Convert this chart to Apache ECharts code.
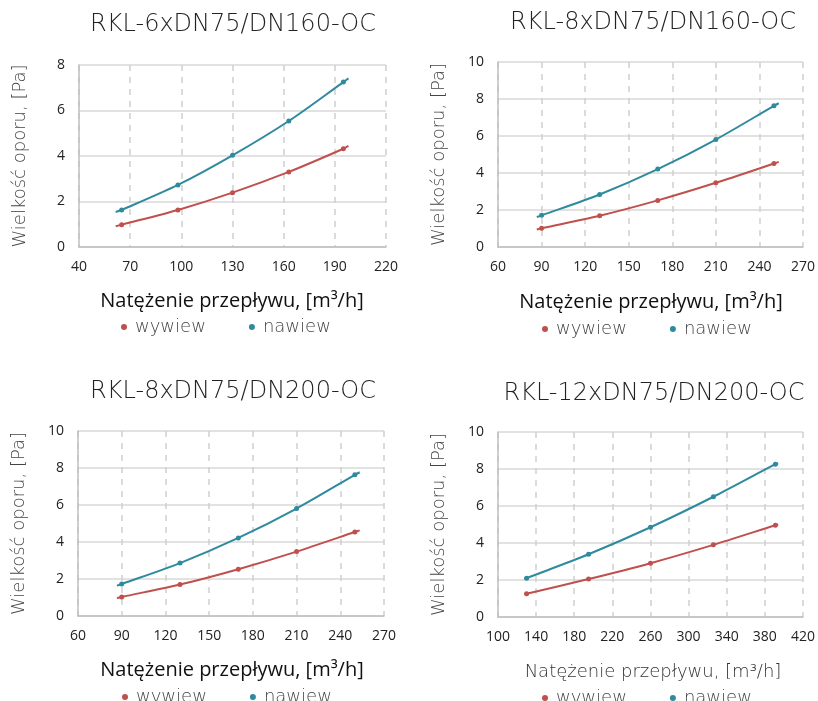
<!DOCTYPE html>
<html>
<head>
<meta charset="utf-8">
<script src="https://cdn.jsdelivr.net/npm/echarts@6/dist/echarts.min.js"></script>
<style>
  html, body { margin: 0; padding: 0; background: #fff; }
  #main { width: 818px; height: 701px; }
</style>
</head>
<body>
<div id="main"></div>
<script>
// tytuły wykresów
const titles = ['RKL-6xDN75/DN160-OC', 'RKL-8xDN75/DN160-OC', 'RKL-8xDN75/DN200-OC', 'RKL-12xDN75/DN200-OC'];

// osie X (min, max, krok) i Y (max, krok)
const xMin = [40, 60, 60, 100];
const xMax = [220, 270, 270, 420];
const xStep = [30, 30, 30, 40];
const yMax = [8, 10, 10, 10];
const yStep = [2, 2, 2, 2];

// punkty pomiarowe [m3/h, Pa]
const wywiew1 = [[65, 0.98], [98, 1.63], [130, 2.39], [163, 3.30], [195, 4.32]];
const nawiew1 = [[65, 1.63], [98, 2.73], [130, 4.03], [163, 5.54], [195, 7.25]];
const wywiew2 = [[90, 1.01], [130, 1.69], [170, 2.52], [210, 3.47], [250, 4.51]];
const nawiew2 = [[90, 1.71], [130, 2.84], [170, 4.21], [210, 5.81], [250, 7.63]];
const wywiew3 = [[90, 1.03], [130, 1.70], [170, 2.53], [210, 3.48], [250, 4.54]];
const nawiew3 = [[90, 1.73], [130, 2.86], [170, 4.22], [210, 5.81], [250, 7.63]];
const wywiew4 = [[130, 1.26], [195, 2.05], [260, 2.91], [326, 3.90], [391, 4.96]];
const nawiew4 = [[130, 2.10], [195, 3.39], [260, 4.85], [326, 6.50], [391, 8.26]];

// końce linii trendu
const wywiewEnds = [[[61.5, 0.91], [198, 4.45]], [[86.7, 0.95], [253.3, 4.60]], [[86.7, 0.97], [253.3, 4.63]], [[128, 1.22], [394, 5.00]]];
const nawiewEnds = [[[61.5, 1.54], [198, 7.41]], [[86.7, 1.62], [253.3, 7.77]], [[86.7, 1.64], [253.3, 7.77]], [[128, 2.06], [394, 8.31]]];

const wywiew = [wywiew1, wywiew2, wywiew3, wywiew4];
const nawiew = [nawiew1, nawiew2, nawiew3, nawiew4];

const RED = '#C0504D';
const TEAL = '#2F8A9E';
const THIN = 'DejaVu Sans';

// położenie paneli
const grids = [
  { left: 79, top: 65, width: 307, height: 182 },
  { left: 498, top: 62, width: 306, height: 185 },
  { left: 78, top: 431, width: 306, height: 185 },
  { left: 498, top: 432, width: 306, height: 185 }
];
const titleX = [228, 648, 228, 649];
const titleY = [8, 6, 375, 377];
const nameX = [232, 651, 232, 653];
const nameY = [301, 302, 670, 672];
const legendX = [116, 537, 117, 537];
const legendY = [313, 315, 683, 684];

function line(points, ends) {
  return [{ value: ends[0], symbol: 'none' }]
    .concat(points.map(p => ({ value: p })))
    .concat([{ value: ends[1], symbol: 'none' }]);
}

let option = {
  animation: false,
  backgroundColor: '#fff',
  title: [],
  legend: [],
  grid: [],
  xAxis: [],
  yAxis: [],
  series: [],
  graphic: []
};

for (let i = 0; i < 4; i++) {
  option.title.push({
    text: titles[i], left: titleX[i], top: titleY[i], textAlign: 'center',
    textStyle: { fontFamily: THIN, fontWeight: 200, fontSize: 24, color: '#222' }
  });
  option.grid.push(grids[i]);
  option.xAxis.push({
    type: 'value', gridIndex: i, min: xMin[i], max: xMax[i], interval: xStep[i],
    axisLine: { show: true, lineStyle: { color: '#bfbfbf', width: 1.5 } },
    axisTick: { show: false },
    axisLabel: { color: '#222', fontSize: 14, fontFamily: 'Open Sans', margin: 13 },
    splitLine: { show: true, lineStyle: { color: '#d0d0d0', width: 1.5, type: [6, 6] } }
  });
  option.yAxis.push({
    type: 'value', gridIndex: i, min: 0, max: yMax[i], interval: yStep[i],
    name: 'Wielkość oporu, [Pa]', nameLocation: 'middle', nameGap: 50,
    nameTextStyle: { fontFamily: THIN, fontWeight: 200, fontSize: 18, color: '#444' },
    axisLine: { show: true, lineStyle: { color: '#bfbfbf', width: 1.5 } },
    axisTick: { show: false },
    axisLabel: { color: '#222', fontSize: 14, fontFamily: 'Open Sans', margin: 14 },
    splitLine: { show: true, lineStyle: { color: '#d9d9d9', width: 1.5 } }
  });
  option.graphic.push({
    type: 'text', x: nameX[i], y: nameY[i],
    style: {
      text: 'Natężenie przepływu, [m³/h]', textAlign: 'center', textVerticalAlign: 'middle',
      fontFamily: i === 3 ? THIN : 'Open Sans', fontSize: i === 3 ? 18 : 20,
      fontWeight: i === 3 ? 200 : 400,
      fill: i === 3 ? '#333' : '#111'
    }
  });
  option.legend.push({
    left: legendX[i], top: legendY[i], itemGap: 43, itemWidth: 6, itemHeight: 6, icon: 'circle',
    data: ['wywiew', 'nawiew'],
    textStyle: { fontFamily: THIN, fontWeight: 200, fontSize: 18, color: '#444', padding: [0, 0, 0, 3] }
  });
  option.series.push({
    name: 'wywiew', type: 'line', xAxisIndex: i, yAxisIndex: i, smooth: 0.3,
    data: line(wywiew[i], wywiewEnds[i]), symbol: 'circle', symbolSize: 5,
    itemStyle: { color: RED }, lineStyle: { color: RED, width: 2 }
  });
  option.series.push({
    name: 'nawiew', type: 'line', xAxisIndex: i, yAxisIndex: i, smooth: 0.3,
    data: line(nawiew[i], nawiewEnds[i]), symbol: 'circle', symbolSize: 5,
    itemStyle: { color: TEAL }, lineStyle: { color: TEAL, width: 2 }
  });
}

const myChart = echarts.init(document.getElementById('main'));
myChart.setOption(option);
</script>
</body>
</html>
